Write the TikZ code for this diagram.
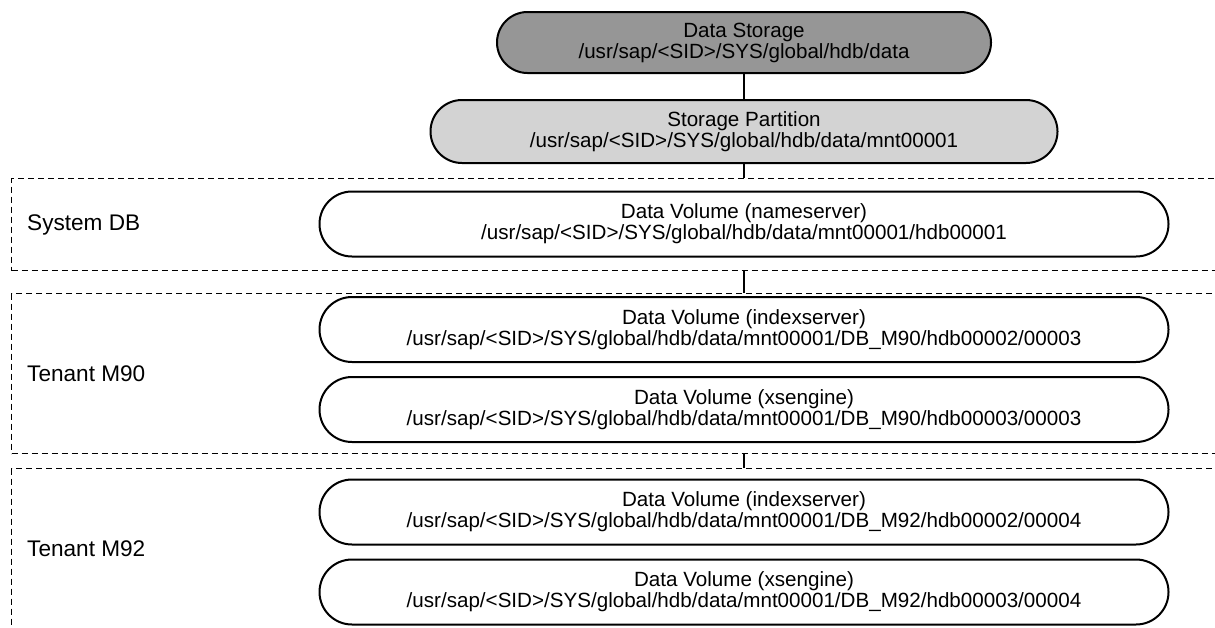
\documentclass[tikz,border=0pt]{standalone}
\usepackage{fontspec}
\setmainfont{Liberation Sans}
\usetikzlibrary{positioning}

\definecolor{storegray}{RGB}{150,150,150}
\definecolor{partgray}{RGB}{211,211,211}

\begin{document}
\begin{tikzpicture}[x=1pt, y=1pt, node distance=25pt, font=\fontsize{20.6}{21}\selectfont]
  \tikzstyle{pill}=[draw, line width=2pt, align=center, inner sep=0pt, fill=white]
  \tikzstyle{storebox}=[pill, fill=storegray, minimum width=494pt, minimum height=61pt, rounded corners=30.5pt]
  \tikzstyle{partbox}=[pill, fill=partgray, minimum width=627pt, minimum height=63pt, rounded corners=31.5pt]
  \tikzstyle{volbox}=[pill, minimum width=849pt, minimum height=65pt, rounded corners=32.5pt]
  \tikzstyle{groupbox}=[draw, line width=1.1pt, dash pattern=on 6pt off 4pt, minimum width=1240pt, inner sep=0pt, anchor=north west]
  \tikzstyle{lbl}=[font=\fontsize{22.6}{24}\selectfont, inner sep=0pt, anchor=west]
  \tikzstyle{conn}=[line width=2.4pt]

  \clip (0,0) rectangle (1215,-627);

  % ------- group boxes -------
  \node[groupbox, minimum height=92pt]  (gsys) at (11,-178) {};
  \node[groupbox, minimum height=160pt] (gm90) at (11,-293) {};
  \node[groupbox, minimum height=160pt] (gm92) at (11,-468) {};

  % group labels
  \node[lbl, right=16pt of gsys.west] (lsys) {System DB};
  \node[lbl, right=16pt of gm90.west] (lm90) {Tenant M90};
  \node[lbl, right=16pt of gm92.west] (lm92) {Tenant M92};

  % ------- nodes -------
  \node[storebox] (store) at (744,-42.5) {Data Storage\\/usr/sap/<SID>/SYS/global/hdb/data};
  \node[partbox, below=of store] (part) {Storage Partition\\/usr/sap/<SID>/SYS/global/hdb/data/mnt00001};

  \node[volbox] (nsvol) at (744,-224) {Data Volume (nameserver)\\/usr/sap/<SID>/SYS/global/hdb/data/mnt00001/hdb00001};

  \node[volbox] (ix90) at (744,-329.5) {Data Volume (indexserver)\\/usr/sap/<SID>/SYS/global/hdb/data/mnt00001/DB\_M90/hdb00002/00003};
  \node[volbox, below=13pt of ix90] (xs90) {Data Volume (xsengine)\\/usr/sap/<SID>/SYS/global/hdb/data/mnt00001/DB\_M90/hdb00003/00003};

  \node[volbox] (ix92) at (744,-512) {Data Volume (indexserver)\\/usr/sap/<SID>/SYS/global/hdb/data/mnt00001/DB\_M92/hdb00002/00004};
  \node[volbox, below=13pt of ix92] (xs92) {Data Volume (xsengine)\\/usr/sap/<SID>/SYS/global/hdb/data/mnt00001/DB\_M92/hdb00003/00004};

  % ------- connectors -------
  \draw[conn] (store) -- (part);
  \draw[conn] (part.south) -- (gsys.north -| part.south);
  \draw[conn] (gsys.south -| part.south) -- (gm90.north -| part.south);
  \draw[conn] (gm90.south -| part.south) -- (gm92.north -| part.south);
\end{tikzpicture}
\end{document}
